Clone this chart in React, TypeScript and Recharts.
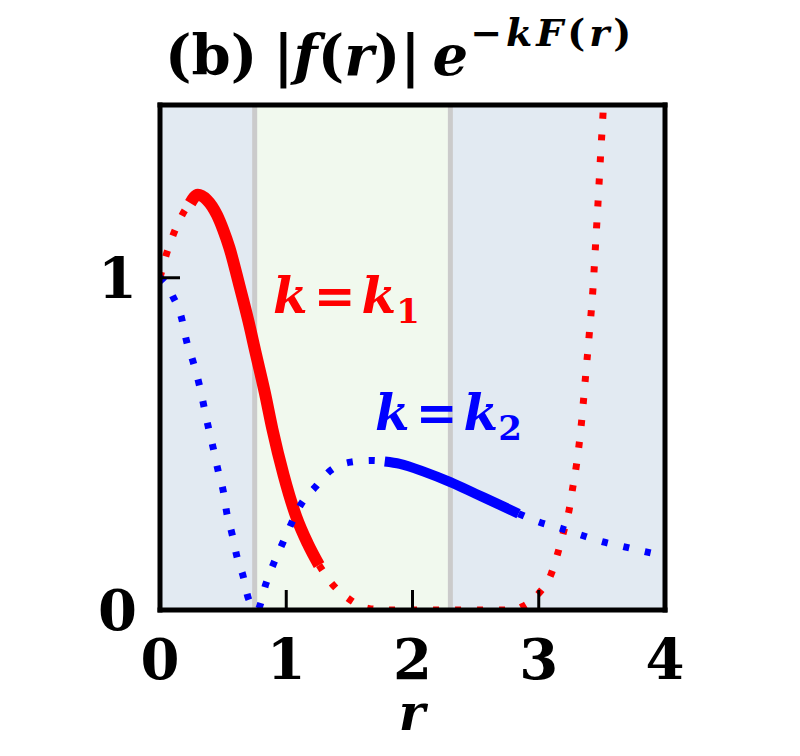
import React from 'react';
import { ComposedChart, Line, XAxis, YAxis, ReferenceArea, ReferenceLine } from 'recharts';

// tick values
const xTicks = [0, 1, 2, 3, 4];
const yTicks = [0, 1];

// shaded regions along r, and the grey boundaries between them
const bandEdges = [0, 0.75, 2.3, 4];
const bandFills = ['#e2eaf2', '#f1f9ee', '#e2eaf2'];
const boundaries = [0.75, 2.3];

// k = k1 (red): dotted / solid / dotted pieces, [r, value]
const redDottedA: [number, number][] = [
  [0, 1.0], [0.05, 1.07], [0.1, 1.125], [0.15, 1.17], [0.2, 1.205], [0.24, 1.225],
];
const redSolid: [number, number][] = [
  [0.24, 1.225], [0.3, 1.25], [0.37, 1.235], [0.45, 1.19], [0.5, 1.145], [0.55, 1.09],
  [0.63, 0.975], [0.7, 0.87], [0.76, 0.77], [0.83, 0.655], [0.89, 0.545], [0.98, 0.405],
  [1.08, 0.28], [1.17, 0.2], [1.26, 0.135],
];
const redDottedB: [number, number][] = [
  [1.26, 0.135], [1.36, 0.08], [1.49, 0.035], [1.65, 0.005], [1.8, 0], [2.2, 0],
  [2.6, 0], [2.8, 0], [2.87, 0.01], [3.0, 0.05], [3.1, 0.11], [3.15, 0.17],
  [3.2, 0.24], [3.24, 0.3], [3.27, 0.37], [3.3, 0.44], [3.34, 0.57], [3.37, 0.7],
  [3.4, 0.83], [3.43, 0.97], [3.45, 1.1], [3.47, 1.23], [3.49, 1.37], [3.51, 1.5],
  [3.53, 1.65],
];

// k = k2 (blue)
const blueDottedA: [number, number][] = [
  [0, 1.0], [0.05, 0.98], [0.1, 0.945], [0.17, 0.88], [0.21, 0.81], [0.26, 0.75],
  [0.31, 0.68], [0.38, 0.555], [0.42, 0.49], [0.46, 0.42], [0.5, 0.36], [0.53, 0.29],
  [0.57, 0.23], [0.61, 0.16], [0.66, 0.1], [0.7, 0.035], [0.77, 0], [0.84, 0.08],
  [0.9, 0.14], [0.97, 0.2], [1.04, 0.26], [1.12, 0.32], [1.23, 0.37], [1.35, 0.42],
  [1.51, 0.445], [1.68, 0.45], [1.78, 0.447],
];
const blueSolid: [number, number][] = [
  [1.78, 0.447], [1.9, 0.44], [2.1, 0.415], [2.3, 0.385], [2.5, 0.35], [2.7, 0.315],
  [2.84, 0.29],
];
const blueDottedB: [number, number][] = [
  [2.84, 0.29], [3.0, 0.265], [3.18, 0.245], [3.34, 0.225], [3.51, 0.205], [3.68, 0.19],
  [3.85, 0.175], [4.0, 0.163],
];

const pts = (a: [number, number][]) => a.map(([r, v]) => ({ r, v }));

const FONT = 'DejaVu Serif';
const RED = '#ff0000';
const BLUE = '#0000ff';
const frame = { stroke: '#000', strokeWidth: 5, strokeLinecap: 'square' } as any;
const tickLine = { stroke: '#000', strokeWidth: 3 };
const tickFont = { fill: '#000', fontSize: 56, fontFamily: FONT, fontWeight: 'bold' } as any;

const dotted = { strokeWidth: 7, strokeDasharray: '6 16' };

export default function App() {
  const series = [
    { d: redDottedA, c: RED, s: dotted },
    { d: redSolid, c: RED, s: { strokeWidth: 12 } },
    { d: redDottedB, c: RED, s: dotted },
    { d: blueDottedA, c: BLUE, s: dotted },
    { d: blueSolid, c: BLUE, s: { strokeWidth: 10 } },
    { d: blueDottedB, c: BLUE, s: dotted },
  ];

  return (
    <div style={{ position: 'relative', width: 800, height: 740 }}>
      <ComposedChart width={800} height={740} margin={{ top: 0, right: 0, bottom: 0, left: 0 }}>
        {bandFills.map((f, i) => (
          <ReferenceArea
            key={'b' + i}
            x1={bandEdges[i]}
            x2={bandEdges[i + 1]}
            fill={f}
            fillOpacity={1}
            stroke="none"
          />
        ))}
        {boundaries.map((x) => (
          <ReferenceLine key={'l' + x} x={x} stroke="#cbcbcb" strokeWidth={5} />
        ))}
        {series.map((l, i) => (
          <Line
            key={'s' + i}
            data={pts(l.d)}
            dataKey="v"
            type="monotone"
            stroke={l.c}
            {...l.s}
            dot={false}
            activeDot={false}
            isAnimationActive={false}
          />
        ))}
        <XAxis
          type="number"
          dataKey="r"
          domain={[0, 4]}
          ticks={xTicks}
          interval={0}
          allowDataOverflow
          height={138}
          tickSize={-20}
          tickMargin={49}
          axisLine={frame}
          tickLine={tickLine}
          tick={tickFont}
        />
        <XAxis
          xAxisId="top"
          orientation="top"
          type="number"
          domain={[0, 4]}
          ticks={xTicks}
          interval={0}
          allowDataOverflow
          height={97}
          tickSize={-20}
          axisLine={frame}
          tickLine={tickLine}
          tick={false}
        />
        <YAxis
          type="number"
          domain={[0, 1.52]}
          ticks={yTicks}
          interval={0}
          allowDataOverflow
          width={152}
          tickSize={-20}
          tickMargin={43}
          axisLine={frame}
          tickLine={tickLine}
          tick={tickFont}
        />
        <YAxis
          yAxisId="right"
          orientation="right"
          type="number"
          domain={[0, 1.52]}
          ticks={yTicks}
          interval={0}
          allowDataOverflow
          width={143}
          tickSize={-20}
          axisLine={frame}
          tickLine={tickLine}
          tick={false}
        />
      </ComposedChart>
      <svg
        width={800}
        height={740}
        style={{ position: 'absolute', left: 0, top: 0, pointerEvents: 'none' }}
      >
        <text x={157} y={67} fontFamily={FONT} fontWeight="bold" fontSize={56} fill="#000">
          <tspan>(b)</tspan>
          <tspan dx={16}>|</tspan>
          <tspan fontStyle="italic">f</tspan>
          <tspan>(</tspan>
          <tspan fontStyle="italic">r</tspan>
          <tspan>)|</tspan>
          <tspan dx={12} fontStyle="italic">e</tspan>
          <tspan fontSize={38} dy={-29} dx={2} letterSpacing={4}>−</tspan>
          <tspan fontSize={38} fontStyle="italic" letterSpacing={4}>kF</tspan>
          <tspan fontSize={38} letterSpacing={4}>(</tspan>
          <tspan fontSize={38} fontStyle="italic" letterSpacing={4}>r</tspan>
          <tspan fontSize={38}>)</tspan>
        </text>
        <text x={265} y={305} fontFamily={FONT} fontWeight="bold" fontSize={50} fill={RED}>
          <tspan fontStyle="italic">k</tspan>
          <tspan dx={6}>=</tspan>
          <tspan dx={6} fontStyle="italic">k</tspan>
          <tspan fontSize={34} dy={10}>1</tspan>
        </text>
        <text x={367} y={422} fontFamily={FONT} fontWeight="bold" fontSize={50} fill={BLUE}>
          <tspan fontStyle="italic">k</tspan>
          <tspan dx={6}>=</tspan>
          <tspan dx={6} fontStyle="italic">k</tspan>
          <tspan fontSize={34} dy={10}>2</tspan>
        </text>
        <text
          x={404}
          y={722}
          textAnchor="middle"
          fontFamily={FONT}
          fontWeight="bold"
          fontStyle="italic"
          fontSize={50}
          fill="#000"
        >
          r
        </text>
      </svg>
    </div>
  );
}
